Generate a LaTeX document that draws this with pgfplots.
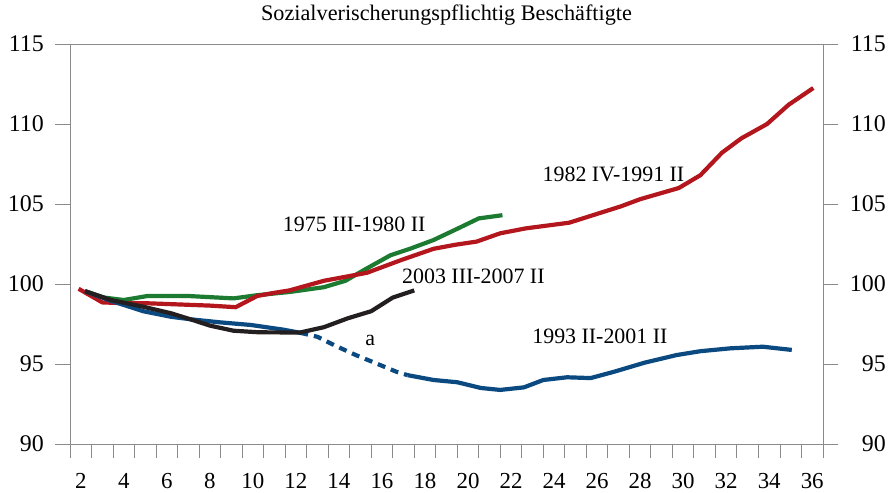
\documentclass[border=0pt]{standalone}
\usepackage{fontspec}
\setmainfont{Liberation Serif}
\usepackage{pgfplots}
\pgfplotsset{compat=1.18}

\definecolor{axgray}{HTML}{8A8A8A}
\definecolor{cred}{HTML}{B3161D}
\definecolor{cgreen}{HTML}{1C7A31}
\definecolor{cblack}{HTML}{231F20}
\definecolor{cblue}{HTML}{0A4A80}

\pgfplotsset{
  base/.style={
    width=753bp, height=400bp, scale only axis,
    at={(0,0)}, anchor=south west,
    xmin=1.5, xmax=36.5, ymin=90, ymax=115,
    axis line style={draw=axgray, line width=0.9bp},
    tick style={draw=axgray, line width=0.9bp},
    tick align=outside,
    /pgf/number format/assume math mode=true,
    tick label style={font=\fontsize{23}{23}\selectfont, inner sep=0pt},
  },
  ser/.style={line width=4.2bp, line join=round},
}

\begin{document}
\begin{tikzpicture}
\useasboundingbox (-70bp,-49bp) rectangle (823bp,444bp);

% data and x axis
\begin{axis}[base,
  xtick={2,4,...,36}, minor xtick={1.5,2.5,...,36.5},
  major tick length=0pt, minor tick length=14bp,
  xtick pos=left, ytick=\empty,
  xticklabel style={anchor=north, yshift=-29bp},
  title={Sozialverischerungspflichtig Beschäftigte},
  title style={at={(0.5,1)}, anchor=base, yshift=17.3bp, inner sep=0pt,
    font=\fontsize{22.3}{22.3}\selectfont},
  clip=false,
]
% 1975 III-1980 II
\addplot[ser, cgreen] coordinates {
(2.2,99.55)(3.1,99.15)(4.0,99.0)(5.1,99.25)(7.0,99.25)(9.1,99.1)(10.2,99.3)
(11.7,99.5)(13.3,99.8)(14.3,100.2)(15.2,100.9)(16.4,101.8)(17.3,102.2)
(18.4,102.75)(19.5,103.45)(20.5,104.1)(21.6,104.3)
};
% 1982 IV-1991 II
\addplot[ser, cred] coordinates {
(1.9,99.7)(3.0,98.85)(4,98.8)(5,98.8)(6,98.75)(7,98.7)(8,98.65)(9.2,98.55)
(10.2,99.25)(11,99.45)(11.7,99.6)(13.3,100.2)(15.3,100.7)(16.9,101.5)
(18.4,102.2)(19.4,102.45)(20.4,102.65)(21.5,103.17)(22.7,103.48)(24.7,103.83)
(27.1,104.85)(28.0,105.3)(29.8,106.0)(30.8,106.8)(31.8,108.2)(32.7,109.1)
(33.9,110.0)(34.9,111.2)(36.05,112.25)
};
% 1993 II-2001 II
\addplot[ser, cblue] coordinates {
(2.2,99.55)(3.4,98.95)(4.9,98.3)(6.2,97.95)(7.2,97.78)(8.5,97.6)(9.9,97.44)
(11.4,97.15)(12.2,96.95)
};
\addplot[ser, cblue, dash pattern=on 8bp off 6bp] coordinates {
(12.2,96.95)(13.0,96.7)(13.9,96.1)(14.8,95.55)(15.8,95.0)(16.7,94.5)(17.2,94.3)
};
\addplot[ser, cblue] coordinates {
(17.2,94.3)(18.4,94.0)(19.5,93.86)(20.6,93.5)(21.5,93.38)(22.6,93.54)
(23.5,94.0)(24.6,94.17)(25.7,94.12)(26.8,94.52)(28.2,95.08)(29.7,95.56)
(30.8,95.8)(32.2,95.98)(33.7,96.08)(35.05,95.88)
};
% 2003 III-2007 II
\addplot[ser, cblack] coordinates {
(2.2,99.55)(3.4,99.0)(4.9,98.58)(6.2,98.17)(7.2,97.75)(8.0,97.4)(9.1,97.08)
(10.3,96.98)(12.2,96.97)(13.3,97.3)(14.4,97.85)(15.5,98.3)(16.5,99.15)(17.5,99.6)
};

\begin{scope}[font=\fontsize{22}{22}\selectfont, inner sep=0pt]
\node[anchor=base] at (axis cs:14.71,103.27) {1975 III-1980 II};
\node[anchor=base] at (axis cs:20.25,100.0) {2003 III-2007 II};
\node[anchor=base] at (axis cs:26.76,106.39) {1982 IV-1991 II};
\node[anchor=base] at (axis cs:26.13,96.29) {1993 II-2001 II};
\node[anchor=base] at (axis cs:15.46,96.14) {a};
\end{scope}
\end{axis}

% left y axis
\begin{axis}[base,
  axis x line=none, axis y line*=left,
  ytick={90,95,...,115}, major tick length=15bp,
  yticklabel style={anchor=east, xshift=-11bp, font=\fontsize{24}{24}\selectfont},
]
\end{axis}

% right y axis
\begin{axis}[base,
  axis x line=none, axis y line*=right,
  ytick={90,95,...,115}, major tick length=15bp,
  yticklabel style={anchor=east, xshift=48bp, font=\fontsize{24}{24}\selectfont},
]
\end{axis}
\end{tikzpicture}
\end{document}
